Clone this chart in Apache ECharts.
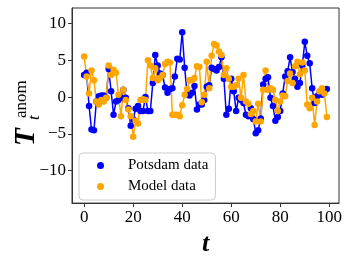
<!DOCTYPE html>
<html><head><meta charset="utf-8">
<script src="https://cdn.jsdelivr.net/npm/echarts@6/dist/echarts.min.js"></script>
<style>html,body{margin:0;padding:0;background:#fff}#c{width:349px;height:262px}</style>
</head><body><div id="c"></div>
<script>
var tValues = [];
for (var i = 0; i < 100; i++) tValues.push(i);
var potsdam = [3.0,3.3,-1.2,-4.4,-4.5,-0.6,0.1,0.2,0.2,-0.1,
3.8,0.8,-2.4,-0.6,-0.4,-0.1,1.0,-0.1,-1.5,-3.9,
-3.0,-1.6,-1.2,-1.9,-1.9,0.0,-1.9,-1.9,1.9,5.7,
4.3,3.2,3.0,1.3,0.6,1.1,1.2,2.8,5.2,5.1,
8.8,4.0,0.4,0.2,0.6,1.5,-1.7,-1.0,-1.0,-0.4,
1.4,1.6,4.0,3.8,3.6,4.1,5.4,2.5,-2.4,-1.6,
2.5,0.8,-1.9,-0.1,-0.4,-0.8,-2.4,-2.6,-1.5,-3.0,
-4.9,-4.5,-2.9,1.7,2.5,2.7,-0.1,-1.2,-3.2,-2.7,
-1.9,0.5,2.8,3.5,5.4,3.4,2.5,1.4,1.9,4.3,
7.5,5.6,4.6,1.2,-0.8,0.1,0.5,0.3,0.8,1.1];
var model = [5.5,2.8,0.5,3.6,2.3,-0.6,-1.0,-0.4,-0.6,-0.1,
4.3,3.0,3.7,3.3,0.3,-2.6,1.0,-0.4,-1.7,-2.6,
-5.4,-3.2,-3.6,-0.4,-0.3,-0.4,5.0,4.3,2.6,3.9,
2.3,2.6,3.0,4.5,4.8,4.7,-2.4,-2.4,-2.4,-2.6,
-1.1,0.3,1.1,2.3,2.3,2.6,4.2,4.1,-0.7,0.3,
4.8,1.2,5.6,7.2,7.0,6.2,5.7,3.0,3.9,2.5,
1.4,1.4,1.6,2.5,-0.1,3.0,-0.6,-0.9,-2.3,-1.9,
-3.3,-0.9,-3.3,1.0,3.6,1.0,1.2,1.0,-0.4,-1.9,
-0.6,0.2,0.1,2.2,3.2,1.9,4.2,4.8,3.1,4.7,
3.6,-1.0,-1.5,-0.1,-3.8,-0.6,0.8,1.2,0.5,-2.7];
var xTicks = [0,20,40,60,80,100];
var yTicks = [-10,-5,0,5,10];
var seriesNames = ['Potsdam data','Model data'];

function pairs(arr){ return arr.map(function(v,i){ return [tValues[i], v]; }); }
function fmt(v){ return v < 0 ? '\u2212' + Math.abs(v) : String(v); }
var serif = 'Liberation Serif';

var chart = echarts.init(document.getElementById('c'), null, {renderer:'canvas'});
chart.setOption({
  animation:false,
  backgroundColor:'#fff',
  grid:{left:72,right:10,top:8,bottom:55,show:true,borderColor:'#333',borderWidth:1,backgroundColor:'transparent'},
  xAxis:{type:'value',min:-4.95,max:103.95,
    axisLine:{show:true,onZero:false,lineStyle:{color:'#333'}},
    axisTick:{show:true,length:4,lineStyle:{color:'#333'},customValues:xTicks},
    axisLabel:{color:'#000',fontFamily:serif,fontSize:17,margin:6,customValues:xTicks,formatter:fmt},
    splitLine:{show:false},
    name:'t',nameLocation:'middle',nameGap:26,
    nameTextStyle:{fontFamily:serif,fontStyle:'italic',fontWeight:'bold',fontSize:26,color:'#000',verticalAlign:'top'}
  },
  yAxis:{type:'value',min:-14.4,max:12.1,
    axisLine:{show:true,onZero:false,lineStyle:{color:'#333'}},
    axisTick:{show:true,length:4,lineStyle:{color:'#333'},customValues:yTicks},
    axisLabel:{color:'#000',fontFamily:serif,fontSize:17,margin:6,customValues:yTicks,formatter:fmt},
    splitLine:{show:false}
  },
  legend:{orient:'vertical',left:79,top:153,data:seriesNames,icon:'circle',itemWidth:7,itemHeight:7,itemGap:6,
    padding:[5,7,6,18],backgroundColor:'rgba(255,255,255,0.8)',borderColor:'#ccc',borderWidth:1,borderRadius:4,
    textStyle:{fontFamily:serif,fontSize:15,color:'#000',padding:[0,0,0,19]}
  },
  graphic:[{type:'group',x:27,y:146,rotation:Math.PI/2,children:[
    {type:'text',x:0,y:0,style:{text:'T',font:'italic bold 29px "Liberation Serif"',fill:'#000',verticalAlign:'middle',align:'left'}},
    {type:'text',x:28,y:-5,style:{text:'anom',font:'17px "Liberation Serif"',fill:'#000',verticalAlign:'middle',align:'left'}},
    {type:'text',x:26,y:8,style:{text:'t',font:'italic 17px "Liberation Serif"',fill:'#000',verticalAlign:'middle',align:'left'}}
  ]}],
  series:[
    {name:seriesNames[0],type:'line',data:pairs(potsdam),symbol:'circle',symbolSize:6.5,showSymbol:true,
     itemStyle:{color:'#0000ff'},lineStyle:{color:'#0000ff',width:1.5}},
    {name:seriesNames[1],type:'line',data:pairs(model),symbol:'circle',symbolSize:6.5,showSymbol:true,
     itemStyle:{color:'#ffa500'},lineStyle:{color:'#ffa500',width:1.5}}
  ]
});
</script></body></html>
